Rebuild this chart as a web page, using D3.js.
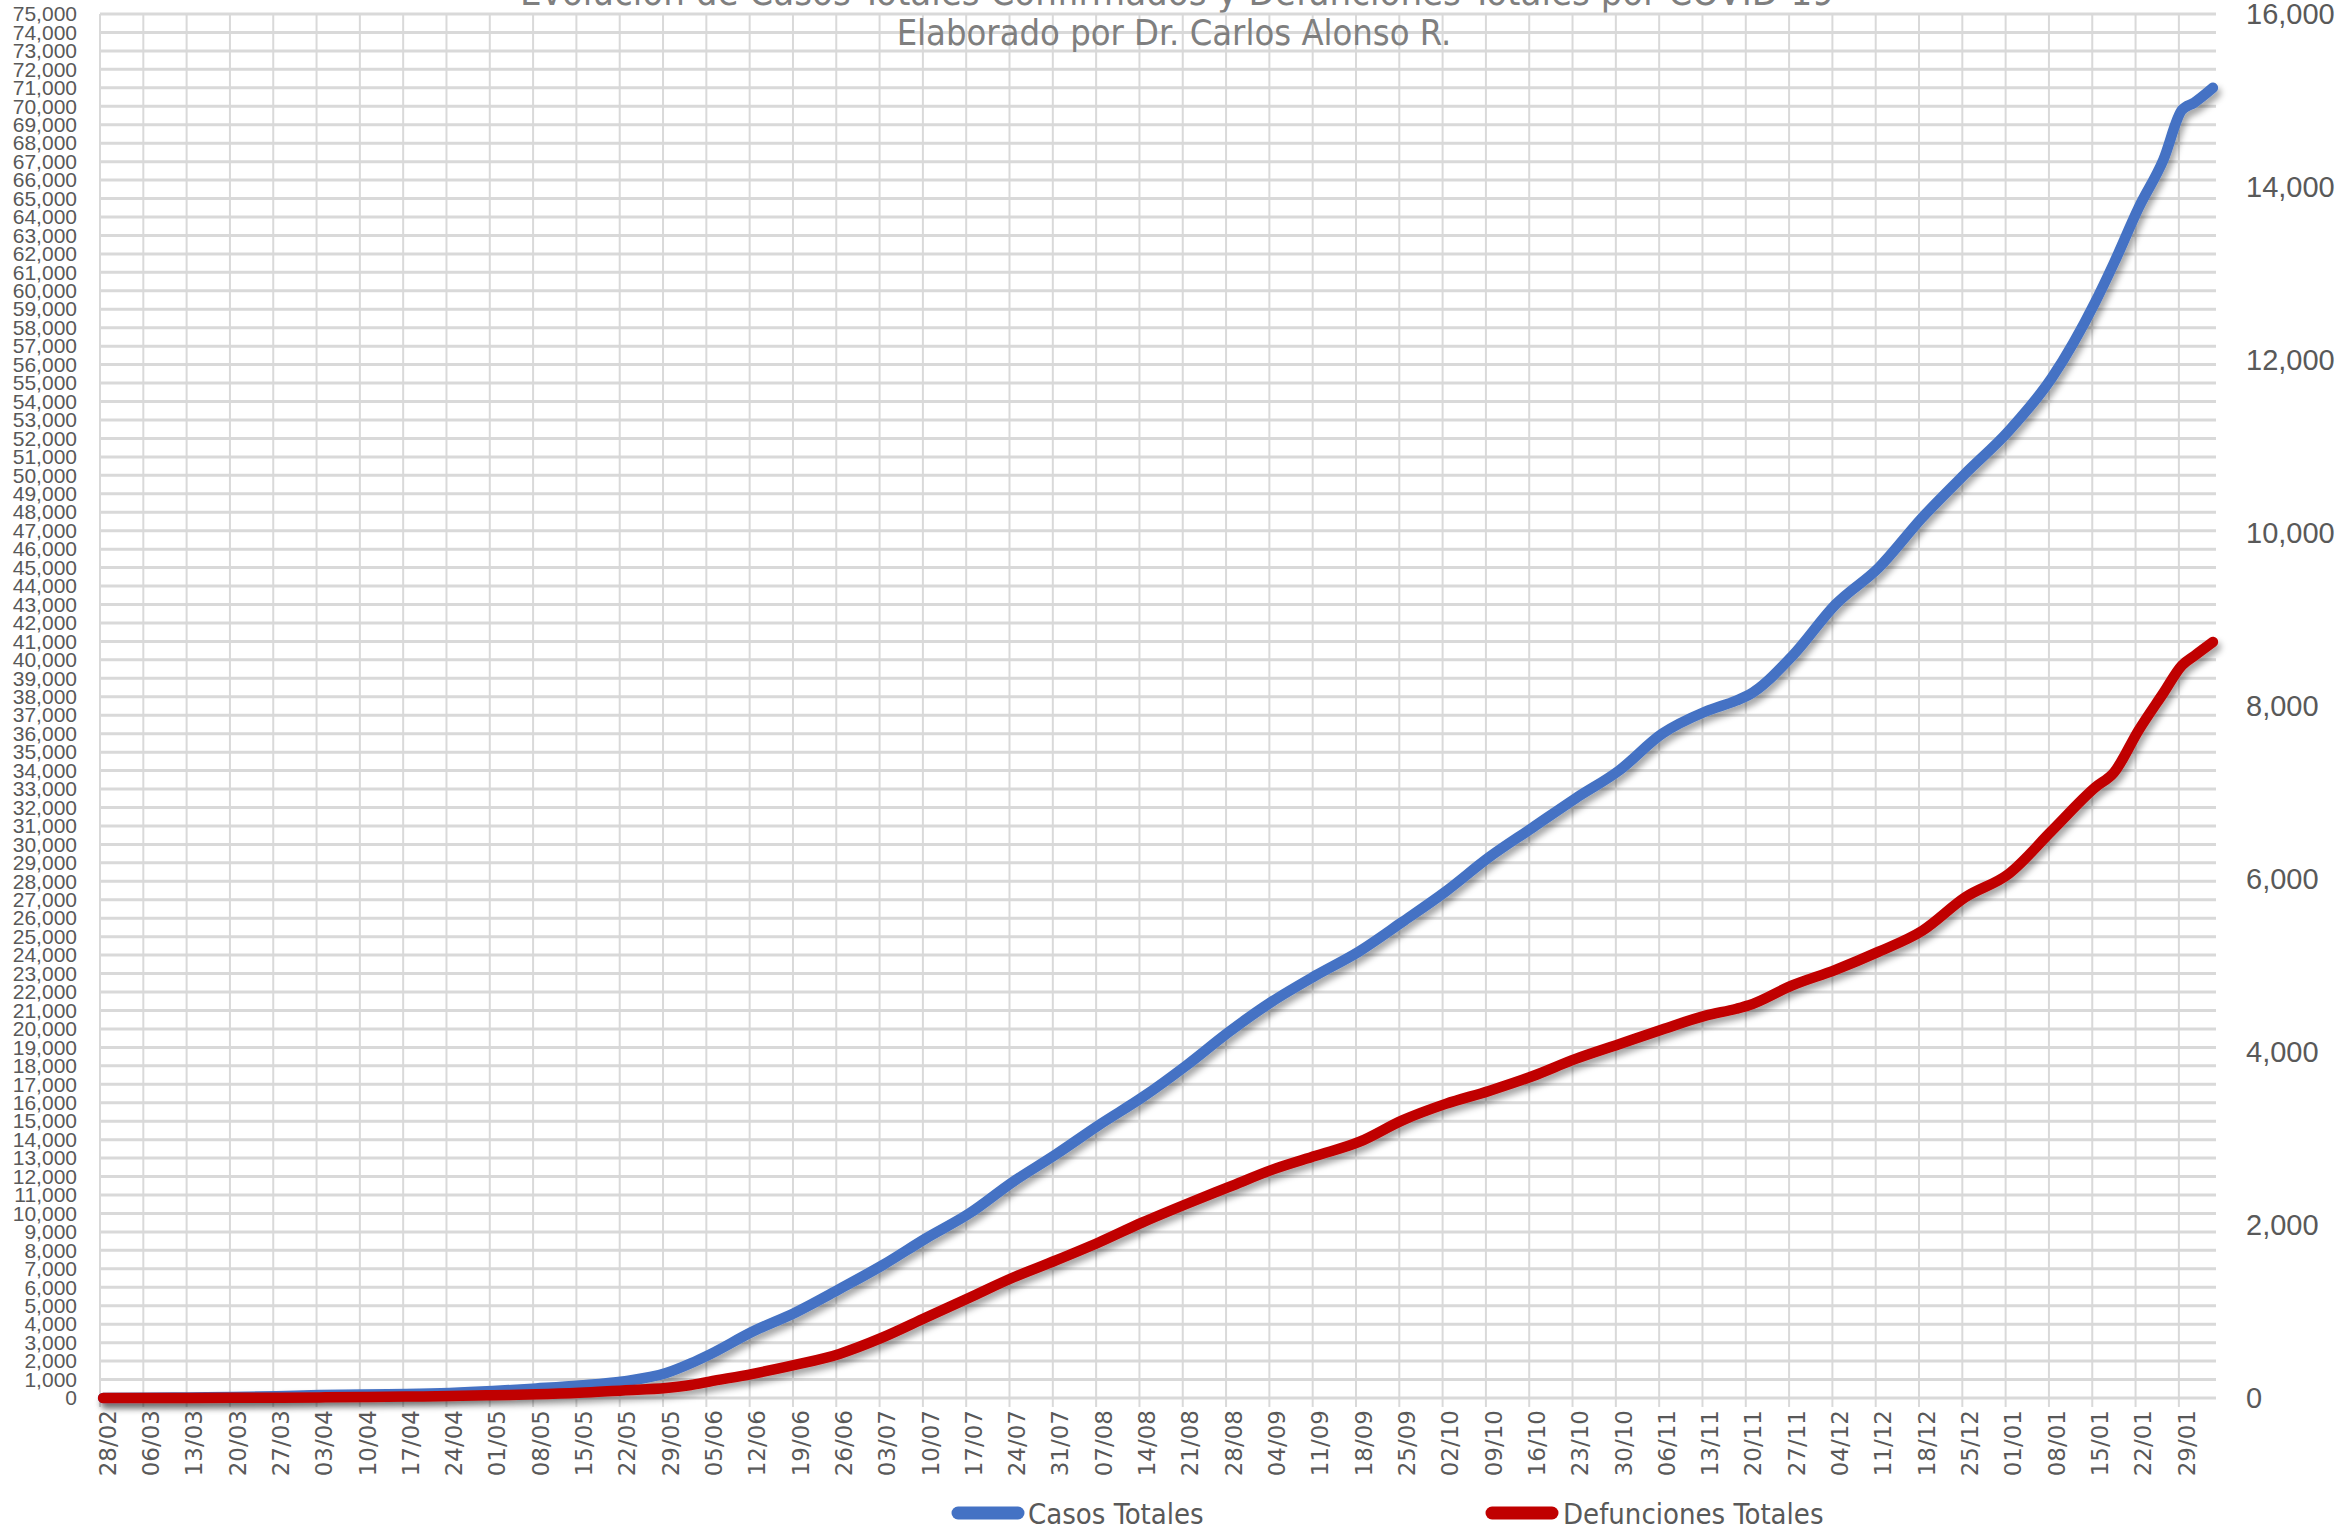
<!DOCTYPE html>
<html>
<head>
<meta charset="utf-8">
<script src="https://cdn.jsdelivr.net/npm/d3@7"></script>
<style>
  html, body { margin: 0; padding: 0; background: #fff; }
  svg { display: block; }
</style>
</head>
<body>
<svg id="chart" width="2342" height="1530"></svg>
<script>
// ---- datos ----
const fechas = [
  "2020-02-28","2020-03-06","2020-03-13","2020-03-20","2020-03-27","2020-04-03","2020-04-10",
  "2020-04-17","2020-04-24","2020-05-01","2020-05-08","2020-05-15","2020-05-22","2020-05-29",
  "2020-06-02","2020-06-05","2020-06-12","2020-06-19","2020-06-26","2020-07-03","2020-07-10",
  "2020-07-17","2020-07-24","2020-07-31","2020-08-07","2020-08-14","2020-08-21","2020-08-28",
  "2020-09-04","2020-09-11","2020-09-18","2020-09-25","2020-10-02","2020-10-09","2020-10-16",
  "2020-10-23","2020-10-30","2020-11-06","2020-11-13","2020-11-18","2020-11-20","2020-11-27",
  "2020-12-04","2020-12-11","2020-12-18","2020-12-25","2021-01-01","2021-01-08","2021-01-15",
  "2021-01-18","2021-01-22","2021-01-26","2021-01-29","2021-01-31","2021-02-03"
];

const casosTotales = [
  0, 10, 30, 60, 100, 160, 190,
  215, 270, 375, 520, 680, 900, 1350,
  1880, 2350, 3600, 4650, 5900, 7200, 8650,
  10000, 11700, 13200, 14800, 16300, 18000, 19850,
  21500, 22900, 24200, 25800, 27450, 29300, 30900,
  32500, 34000, 36000, 37200, 37800, 38100, 40200,
  43000, 45000, 47700, 50100, 52400, 55300, 59400,
  61500, 64500, 67100, 69800, 70200, 71000
];

const defuncionesTotales = [
  0, 0, 1, 2, 4, 7, 11,
  16, 22, 32, 42, 60, 88, 115,
  150, 190, 280, 385, 510, 700, 930,
  1160, 1390, 1590, 1800, 2030, 2240, 2440,
  2640, 2800, 2960, 3210, 3400, 3550, 3720,
  3920, 4090, 4260, 4420, 4500, 4540, 4770,
  4950, 5160, 5400, 5790, 6060, 6560, 7060,
  7230, 7720, 8150, 8470, 8580, 8740
];

// etiquetas semanales del eje x
const fechasEje = [
  "2020-02-28","2020-03-06","2020-03-13","2020-03-20","2020-03-27","2020-04-03","2020-04-10",
  "2020-04-17","2020-04-24","2020-05-01","2020-05-08","2020-05-15","2020-05-22","2020-05-29",
  "2020-06-05","2020-06-12","2020-06-19","2020-06-26","2020-07-03","2020-07-10","2020-07-17",
  "2020-07-24","2020-07-31","2020-08-07","2020-08-14","2020-08-21","2020-08-28","2020-09-04",
  "2020-09-11","2020-09-18","2020-09-25","2020-10-02","2020-10-09","2020-10-16","2020-10-23",
  "2020-10-30","2020-11-06","2020-11-13","2020-11-20","2020-11-27","2020-12-04","2020-12-11",
  "2020-12-18","2020-12-25","2021-01-01","2021-01-08","2021-01-15","2021-01-22","2021-01-29"
];
const ticksIzq = d3.range(0, 75001, 1000);
const ticksDer = [0, 2000, 4000, 6000, 8000, 10000, 12000, 14000, 16000];

const titulo = "Evolución de Casos Totales Confirmados y Defunciones Totales por COVID-19";
const subtitulo = "Elaborado por Dr. Carlos Alonso R.";
const series = [
  { nombre: "Casos Totales", valores: casosTotales, color: "#4472C4", eje: "izq" },
  { nombre: "Defunciones Totales", valores: defuncionesTotales, color: "#C00000", eje: "der" }
];

// ---- geometria ----
const size = { left: 100, right: 2216, top: 14, bottom: 1398 };
const parse = d3.utcParse("%Y-%m-%d");
const fmtEje = d3.utcFormat("%d/%m");
const medioDia = 12 * 3600 * 1000;
const textGray = "#595959";
const narrow = "'Liberation Sans Narrow', 'DejaVu Sans Condensed', 'Liberation Sans', sans-serif";

const svg = d3.select("#chart");

const x = d3.scaleUtc()
  .domain([new Date(+parse(fechas[0]) - medioDia), new Date(+parse(fechas[fechas.length - 1]) + medioDia)])
  .range([size.left, size.right]);

const yIzq = d3.scaleLinear().domain([0, 75000]).range([size.bottom, size.top]);
const yDer = d3.scaleLinear().domain([0, 16000]).range([size.bottom, size.top]);

const defs = svg.append("defs");
defs.append("filter")
  .attr("id", "sombra")
  .attr("x", "-5%").attr("y", "-5%").attr("width", "110%").attr("height", "110%")
  .append("feDropShadow")
  .attr("dx", 3).attr("dy", 5).attr("stdDeviation", 3)
  .attr("flood-color", "#000").attr("flood-opacity", 0.35);

// titulo (cortado por el borde superior como en la imagen)
svg.append("text")
  .attr("x", 1177).attr("y", 5)
  .attr("text-anchor", "middle")
  .attr("font-family", narrow).attr("font-size", 38)
  .attr("fill", "#7f7f7f")
  .text(titulo);

// ---- cuadricula ----
const grid = svg.append("g");

grid.selectAll(".h")
  .data(ticksIzq)
  .join("line")
  .attr("class", "h")
  .attr("x1", size.left).attr("x2", size.right)
  .attr("y1", d => yIzq(d)).attr("y2", d => yIzq(d))
  .attr("stroke", "#d9d9d9").attr("stroke-width", 3);

grid.selectAll(".v")
  .data(fechasEje)
  .join("line")
  .attr("class", "v")
  .attr("x1", d => x(new Date(+parse(d) - medioDia)))
  .attr("x2", d => x(new Date(+parse(d) - medioDia)))
  .attr("y1", size.top).attr("y2", size.bottom + 9)
  .attr("stroke", "#d9d9d9").attr("stroke-width", 2);

// subtitulo
svg.append("text")
  .attr("x", 1174).attr("y", 45)
  .attr("text-anchor", "middle")
  .attr("font-family", narrow).attr("font-size", 36)
  .attr("fill", "#7f7f7f")
  .text(subtitulo);

// ---- ejes ----
const ejeIzq = svg.append("g")
  .attr("transform", "translate(" + (size.left - 23) + ",0)")
  .call(d3.axisLeft(yIzq).tickValues(ticksIzq).tickSize(0).tickPadding(0).tickFormat(d3.format(",")));
ejeIzq.select(".domain").remove();
ejeIzq.selectAll("text")
  .attr("font-family", "'Liberation Sans', sans-serif").attr("font-size", 21)
  .attr("fill", textGray);

const ejeDer = svg.append("g")
  .attr("transform", "translate(2246,0)")
  .call(d3.axisRight(yDer).tickValues(ticksDer).tickSize(0).tickPadding(0).tickFormat(d3.format(",")));
ejeDer.select(".domain").remove();
ejeDer.selectAll("text")
  .attr("font-family", "'Liberation Sans', sans-serif").attr("font-size", 29)
  .attr("fill", textGray);

const ejeX = svg.append("g")
  .attr("transform", "translate(4," + (size.bottom + 12) + ")")
  .call(d3.axisBottom(x).tickValues(fechasEje.map(parse)).tickSize(0).tickPadding(0).tickFormat(fmtEje));
ejeX.select(".domain").remove();
ejeX.selectAll("text")
  .attr("font-family", "'DejaVu Sans', sans-serif").attr("font-size", 23)
  .attr("fill", textGray)
  .attr("text-anchor", "end")
  .attr("dy", "0.35em")
  .attr("transform", "rotate(-90)");

// ---- lineas ----
series.forEach(s => {
  const y = s.eje === "izq" ? yIzq : yDer;
  const line = d3.line()
    .x((d, i) => x(parse(fechas[i])))
    .y(d => y(d))
    .curve(d3.curveMonotoneX);
  svg.append("path")
    .datum(s.valores)
    .attr("d", line)
    .attr("fill", "none")
    .attr("stroke", s.color)
    .attr("stroke-width", 10.5)
    .attr("stroke-linejoin", "round")
    .attr("stroke-linecap", "round")
    .attr("filter", "url(#sombra)");
});

// ---- leyenda ----
const leyenda = [
  { x1: 958, x2: 1018, tx: 1028 },
  { x1: 1492, x2: 1552, tx: 1563 }
];
const gLey = svg.append("g");
series.forEach((s, i) => {
  const p = leyenda[i];
  gLey.append("line")
    .attr("x1", p.x1).attr("x2", p.x2)
    .attr("y1", 1513).attr("y2", 1513)
    .attr("stroke", s.color).attr("stroke-width", 13)
    .attr("stroke-linecap", "round");
  gLey.append("text")
    .attr("x", p.tx).attr("y", 1524)
    .attr("font-family", narrow).attr("font-size", 29)
    .attr("fill", textGray)
    .text(s.nombre);
});
</script>
</body>
</html>
